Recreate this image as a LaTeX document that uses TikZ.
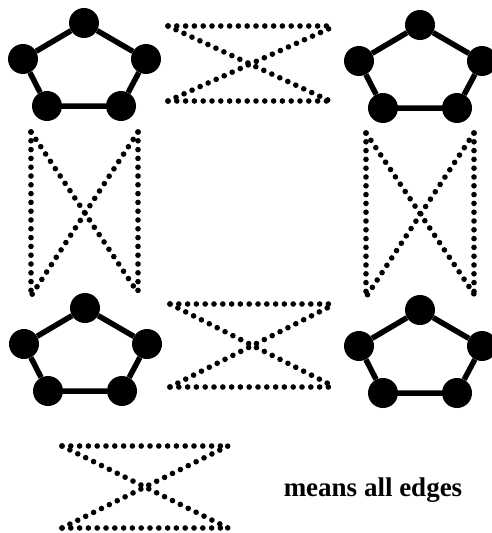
\documentclass[tikz,border=0pt]{standalone}
\usepackage{fontspec}
\setmainfont{Liberation Serif}
\usetikzlibrary{calc}

\begin{document}
\begin{tikzpicture}[x=1pt, y=-1pt,
  vtx/.style={circle, fill=black, inner sep=0pt, minimum size=30pt},
  ring/.style={line width=5.5pt},
  alledges/.style={line width=5.6pt, line cap=round, dash pattern=on 0pt off 8.8pt}]
\useasboundingbox (0,0) rectangle (491,533);

% Pentagons (named by top vertex position)
\foreach \p/\cx/\cy in {a/84/23, b/420/25, c/85/308, d/420/310} {
  \node[vtx] (\p1) at (\cx, \cy) {};
  \node[vtx] (\p2) at (\cx+62, \cy+36) {};
  \node[vtx] (\p3) at (\cx+37, \cy+83) {};
  \node[vtx] (\p4) at (\cx-37, \cy+83) {};
  \node[vtx] (\p5) at (\cx-61, \cy+36) {};
  \draw[ring] (\p1) -- (\p2) -- (\p3) -- (\p4) -- (\p5) -- (\p1);
}

% Dotted crosses between the pentagons
\coordinate (t1) at (168, 26);  \coordinate (t2) at (335, 26);
\coordinate (t3) at (168, 101); \coordinate (t4) at (330, 101);
\draw[alledges] (t1) -- (t2);
\draw[alledges] (t3) -- (t4);
\draw[alledges] (t1) -- (t4);
\draw[alledges] (t3) -- (t2);

\coordinate (m1) at (170, 304); \coordinate (m2) at (335, 304);
\coordinate (m3) at (170, 387); \coordinate (m4) at (335, 387);
\draw[alledges] (m1) -- (m2);
\draw[alledges] (m3) -- (m4);
\draw[alledges] (m1) -- (m4);
\draw[alledges] (m3) -- (m2);

\coordinate (l1) at (31, 132);  \coordinate (l2) at (138, 132);
\coordinate (l3) at (31, 296);  \coordinate (l4) at (138, 293);
\draw[alledges] (l1) -- (l3);
\draw[alledges] (l2) -- (l4);
\draw[alledges] (l1) -- (l4);
\draw[alledges] (l2) -- (l3);

\coordinate (r1) at (366, 133); \coordinate (r2) at (474, 133);
\coordinate (r3) at (366, 297); \coordinate (r4) at (474, 294);
\draw[alledges] (r1) -- (r3);
\draw[alledges] (r2) -- (r4);
\draw[alledges] (r1) -- (r4);
\draw[alledges] (r2) -- (r3);

% Legend
\coordinate (g1) at (62, 446);  \coordinate (g2) at (228, 446);
\coordinate (g3) at (62, 528);  \coordinate (g4) at (228, 528);
\draw[alledges] (g1) -- (g2);
\draw[alledges] (g3) -- (g4);
\draw[alledges] (g1) -- (g4);
\draw[alledges] (g3) -- (g2);
\node[font=\fontsize{27}{30}\selectfont\bfseries] (legend) at (373, 490) {means all edges};
\end{tikzpicture}
\end{document}
